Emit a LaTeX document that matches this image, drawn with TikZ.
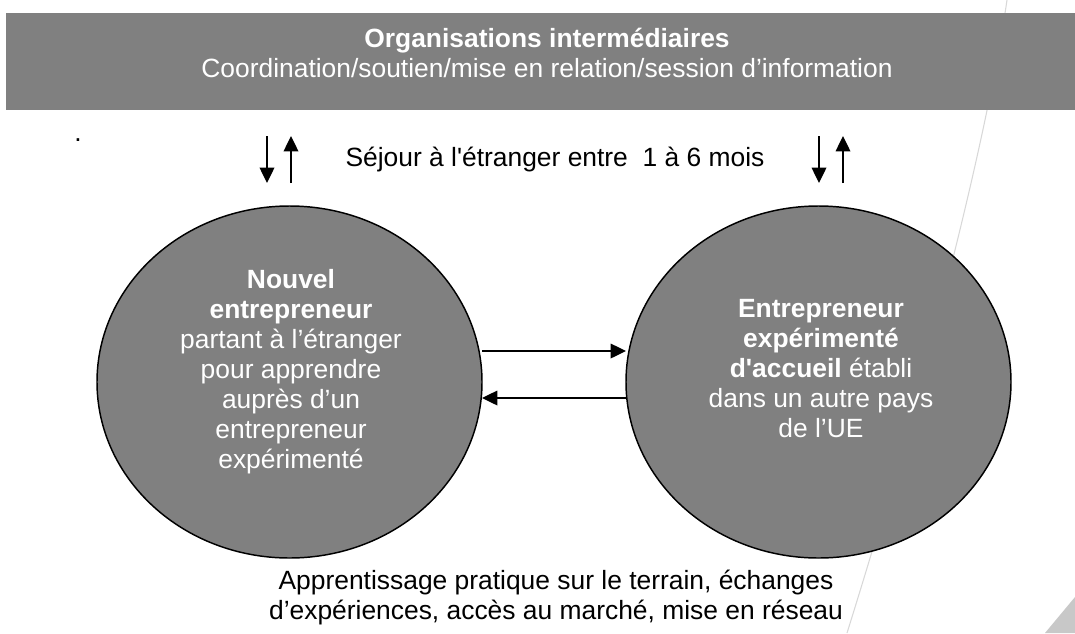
\documentclass[tikz,border=0pt]{standalone}
\usepackage{fontspec}
\setmainfont{Liberation Sans}
\usepackage{tikz}
\usetikzlibrary{arrows.meta}
\usetikzlibrary{shapes.geometric}
\definecolor{grisfond}{HTML}{808080}
\definecolor{grisclair}{HTML}{C8C8C8}
\definecolor{grisligne}{HTML}{D8D8D8}
\tikzset{
   bandeau/.style={rectangle, fill=grisfond, draw=none, inner sep=0pt,
      minimum width=801.75pt, minimum height=72.75pt},
   rond/.style={ellipse, fill=grisfond, draw=black, line width=1.1pt,
      inner sep=0pt, outer sep=0pt, minimum width=288.75pt, minimum height=264pt},
   texteblanc/.style={text=white, align=center,
      font=\fontsize{19.8pt}{22.5pt}\selectfont},
   textenoir/.style={text=black, align=center,
      font=\fontsize{19.8pt}{22.5pt}\selectfont},
   fleche/.style={draw=black, line width=1pt,
      -{Triangle[length=11.5pt, width=11pt]}},
   fond/.style={draw=grisligne, line width=0.8pt},
   }
\begin{document}
\begin{tikzpicture}[x=0.75pt, y=-0.75pt]
            \useasboundingbox (0,0) rectangle (1075,633);
            % decor de fond
            \draw[fond](1007,0) .. controls (985,150) and (920,400) .. (847,633);
            \fill[grisclair](1045,633) -- (1075,597) -- (1075,633) -- cycle;
            % bandeau du haut
            \node[bandeau] (orga) at (540.5,61.5) {};
            \node[texteblanc] (orgatxt) at (547,53)
               {\textbf{Organisations intermédiaires}\\
                Coordination/soutien/mise en relation/session d’information};
            \node[textenoir, anchor=base] (point) at (78,141.5) {.};
            % les deux entrepreneurs
            \node[rond] (nouvel) at (289.5,382) {};
            \node[rond] (accueil) at (818.5,382) {};
            \node[texteblanc] (nouveltxt) at (291,372)
               {\textbf{Nouvel}\\ \textbf{entrepreneur}\\ partant à l’étranger\\
                pour apprendre\\ auprès d’un\\ entrepreneur\\ expérimenté};
            \node[texteblanc] (accueiltxt) at (821,369)
               {\textbf{Entrepreneur}\\ \textbf{expérimenté}\\
                \textbf{d\textquotesingle accueil} établi\\ dans un autre pays\\ de l’UE};
            % sejour
            \node[textenoir] (sejour) at (555,160)
               {Séjour à l\textquotesingle étranger entre \ 1 à 6 mois};
            \coordinate (g1) at (267,136);
            \coordinate (g2) at (267,183);
            \coordinate (g3) at (291,183);
            \coordinate (g4) at (291,136);
            \coordinate (d1) at (819,136);
            \coordinate (d2) at (819,183);
            \coordinate (d3) at (843,183);
            \coordinate (d4) at (843,136);
            \draw[fleche](g1)--(g2);
            \draw[fleche](g3)--(g4);
            \draw[fleche](d1)--(d2);
            \draw[fleche](d3)--(d4);
            % echanges
            \draw[fleche]([yshift=23.25pt]nouvel.east)--([yshift=23.25pt]accueil.west);
            \draw[fleche]([yshift=-12pt]accueil.west)--([yshift=-12pt]nouvel.east);
            \node[textenoir] (terrain) at (556,598)
               {Apprentissage pratique sur le terrain, échanges\\
                d’expériences, accès au marché, mise en réseau};
        \end{tikzpicture}
\end{document}
